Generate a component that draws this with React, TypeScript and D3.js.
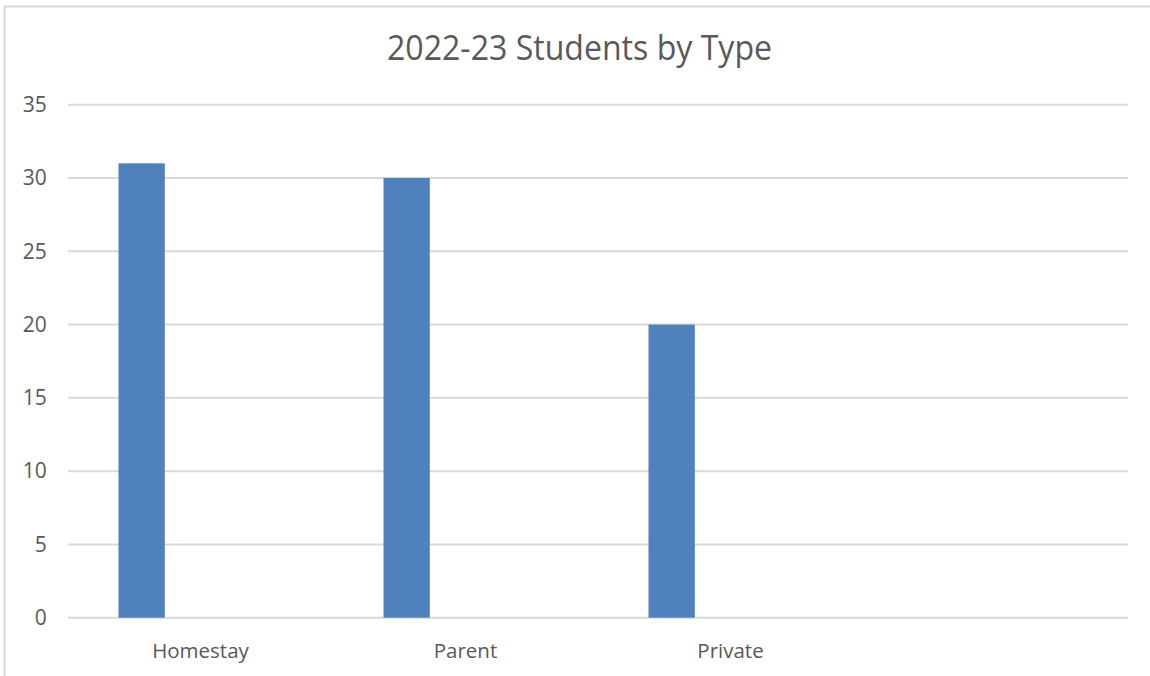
import React from "react";
import * as d3 from "d3";

const title = "2022-23 Students by Type";
const categories = ["Homestay", "Parent", "Private", ""];
const values: (number | null)[] = [31, 30, 20, null];
const yTicks = [0, 5, 10, 15, 20, 25, 30, 35];

const W = 1150;
const H = 676;
const FONT = "'Open Sans', 'Noto Sans', sans-serif";
const TEXT = "#595959";
const GRID = "#d9d9d9";
const BAR = "#4f81bd";

export default function App() {
  const x = d3.scaleBand<string>().domain(categories).range([68, 1128]).padding(0);
  const y = d3.scaleLinear().domain([0, 35]).range([617.7, 104.7]);
  const bw = x.bandwidth();
  const barOffset = bw * 0.1906;
  const barWidth = bw * 0.1747;

  return (
    <svg
      width={W}
      height={H}
      style={{ position: "absolute", left: 0, top: 0, background: "#fff" }}
    >
      <rect x={0} y={0} width={W} height={H} fill="#fff" />
      <path d={`M4.5,${H + 10} V6.5 H${W + 10}`} fill="none" stroke={GRID} strokeWidth={2} />
      <text
        x={579.5}
        y={60}
        textAnchor="middle"
        fontFamily={FONT}
        fontSize={34}
        fill={TEXT}
        textLength={385}
        lengthAdjust="spacingAndGlyphs"
      >
        {title}
      </text>
      {yTicks.map((t) => (
        <g key={t}>
          <line x1={68} x2={1128} y1={y(t)} y2={y(t)} stroke={GRID} strokeWidth={2} />
          <text
            x={46.7}
            y={y(t)}
            dy="0.35em"
            textAnchor="end"
            fontFamily={FONT}
            fontSize={21}
            fill={TEXT}
          >
            {t}
          </text>
        </g>
      ))}
      {categories.map((c, i) => {
        const v = values[i];
        const x0 = x(c) as number;
        return (
          <g key={i}>
            {v != null && (
              <rect
                x={x0 + barOffset}
                y={y(v)}
                width={barWidth}
                height={y(0) - y(v)}
                fill={BAR}
              />
            )}
            {c && (
              <text
                x={x0 + bw / 2}
                y={657.7}
                textAnchor="middle"
                fontFamily={FONT}
                fontSize={20.5}
                fill={TEXT}
              >
                {c}
              </text>
            )}
          </g>
        );
      })}
    </svg>
  );
}
